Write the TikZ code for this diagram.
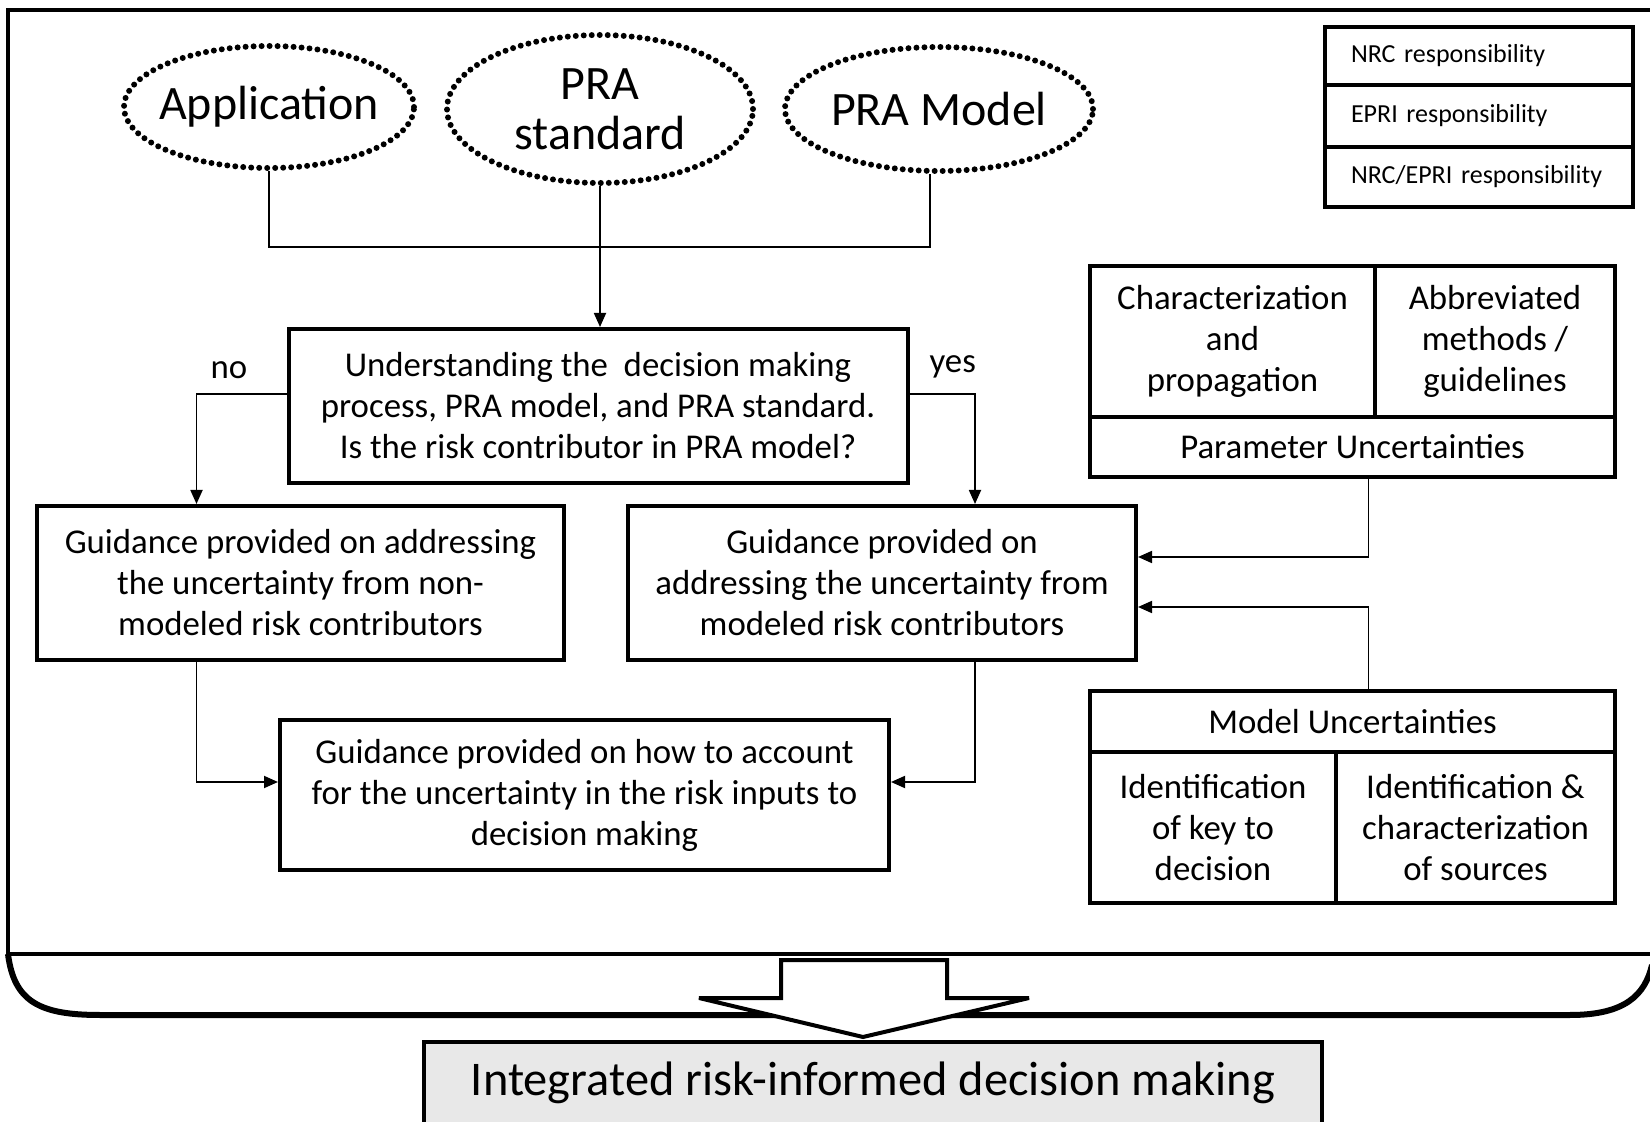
\documentclass[tikz,border=0pt]{standalone}
\usepackage{fontspec}
\setmainfont{Carlito}
\usetikzlibrary{arrows.meta,shapes.geometric,positioning}
\tikzset{
  srcell/.style={ draw, ellipse, align=center, line width=3pt, dash pattern=on 0pt off 4pt, line cap=round, inner xsep=-4pt, inner ysep=0pt, font=\fontsize{24}{25}\selectfont }
}
\tikzset{
  stepbox/.style={ draw, line width=2pt, align=center, inner sep=2pt, font=\fontsize{17.4}{20.5}\selectfont }
}
\tikzset{
  cellbox/.style={ draw, line width=1.8pt, align=center, inner sep=1pt, font=\fontsize{17.4}{20.5}\selectfont }
}
\tikzset{
  legbox/.style={ draw, line width=2.4pt, minimum width=154pt, text width=128pt, inner xsep=13pt, align=left, font=\fontsize{13}{15}\selectfont }
}
\tikzset{
  link/.style={ line width=0.9pt }
}
\begin{document}
\begin{tikzpicture}[x=0.5pt, y=-0.5pt, >={Triangle[length=7pt, width=6pt]}]
      \useasboundingbox (0,0) rectangle (1650,1122);

      % outer frame
      \draw[line width=2.2pt] (1660,10) -- (8,10) -- (8,954) -- (1660,954);
      \draw[line width=3pt] (8,954) .. controls (14,1002) and (40,1015) .. (100,1015) -- (1570,1015) .. controls (1625,1015) and (1645,995) .. (1652,965);

      % inputs
      \node[srcell, minimum width=145pt, minimum height=61pt] (app) at (269,107) {Application};
      \node[srcell, minimum width=153pt, minimum height=74pt] (std) at (600,109) {PRA\\standard};
      \node[srcell, minimum width=154pt, minimum height=62pt] (model) at (939,109) {PRA Model};
      \coordinate (meet) at (600,247);

      % flow
      \node[stepbox, minimum width=309.5pt, minimum height=77pt] (under) at (598,406)
        {Understanding the\ \ decision making\\process, PRA model, and PRA standard.\\Is the risk contributor in PRA model?};
      \node[stepbox, minimum width=263.5pt, minimum height=77pt] (nonmod) at (300.5,583)
        {Guidance provided on addressing\\the uncertainty from non-\\modeled risk contributors};
      \node[stepbox, minimum width=254pt, minimum height=77pt] (mod) at (882,583)
        {Guidance provided on\\addressing the uncertainty from\\modeled risk contributors};
      \node[stepbox, minimum width=304.5pt, minimum height=75pt] (howto) at (584.5,795)
        {Guidance provided on how to account\\for the uncertainty in the risk inputs to\\decision making};

      % parameter uncertainties
      \node[cellbox, minimum width=142.5pt, minimum height=75.5pt] (charp) at (1232.5,341.5) {Characterization\\and\\propagation};
      \node[cellbox, minimum width=120pt, minimum height=75.5pt] (abbr) at (1495,341.5) {Abbreviated\\methods /\\guidelines};
      \node[cellbox, minimum width=262.5pt, minimum height=30pt] (paramU) at (1352.5,447) {Parameter Uncertainties};

      % model uncertainties
      \node[cellbox, minimum width=262.5pt, minimum height=30.5pt] (modelU) at (1352.5,721.5) {Model Uncertainties};
      \node[cellbox, minimum width=123pt, minimum height=75.5pt] (keyid) at (1213,827.5) {Identification\\of key to\\decision};
      \node[cellbox, minimum width=139.5pt, minimum height=75.5pt] (srcid) at (1475.5,827.5) {Identification \&\\characterization\\of sources};

      % legend
      \node[legbox, minimum height=29pt] (nrc) at (1479,56) {NRC responsibility};
      \node[legbox, minimum height=31pt] (epri) at (1479,116) {EPRI responsibility};
      \node[legbox, minimum height=30pt] (both) at (1479,177) {NRC/EPRI responsibility};

      % result
      \draw[line width=2pt, miter limit=1.5, fill=white] (781,960) -- (947,960) -- (947,998) -- (1029,998) -- (863,1037) -- (699,998) -- (781,998) -- cycle;
      \node[draw, line width=2pt, fill=gray!18, minimum width=449pt, minimum height=41.5pt, font=\fontsize{24.2}{29}\selectfont] (irdm) at (873,1083) {Integrated risk-informed decision making};

      \draw[link] (app.south) |- (meet) -| ([xshift=-4.5pt]model.south);
      \begin{scope}[link, ->]
        \draw (std.south) -- (std.south |- under.north);
        \draw ([yshift=6pt]under.west) -| node[pos=0.32, above=4pt, font=\fontsize{17.4}{20}\selectfont] {no} ([xshift=-52pt]nonmod.north);
        \draw ([yshift=6pt]under.east) -| node[pos=0.33, above=4pt, font=\fontsize{17.4}{20}\selectfont] {yes} ([xshift=46.5pt]mod.north);
        \draw ([xshift=-52pt]nonmod.south) |- ([yshift=6.5pt]howto.west);
        \draw ([xshift=46.5pt]mod.south) |- ([yshift=6.5pt]howto.east);
        \draw ([xshift=8pt]paramU.south) |- ([yshift=13pt]mod.east);
        \draw ([xshift=8pt]modelU.north) |- ([yshift=-12pt]mod.east);
      \end{scope}
    \end{tikzpicture}
\end{document}
